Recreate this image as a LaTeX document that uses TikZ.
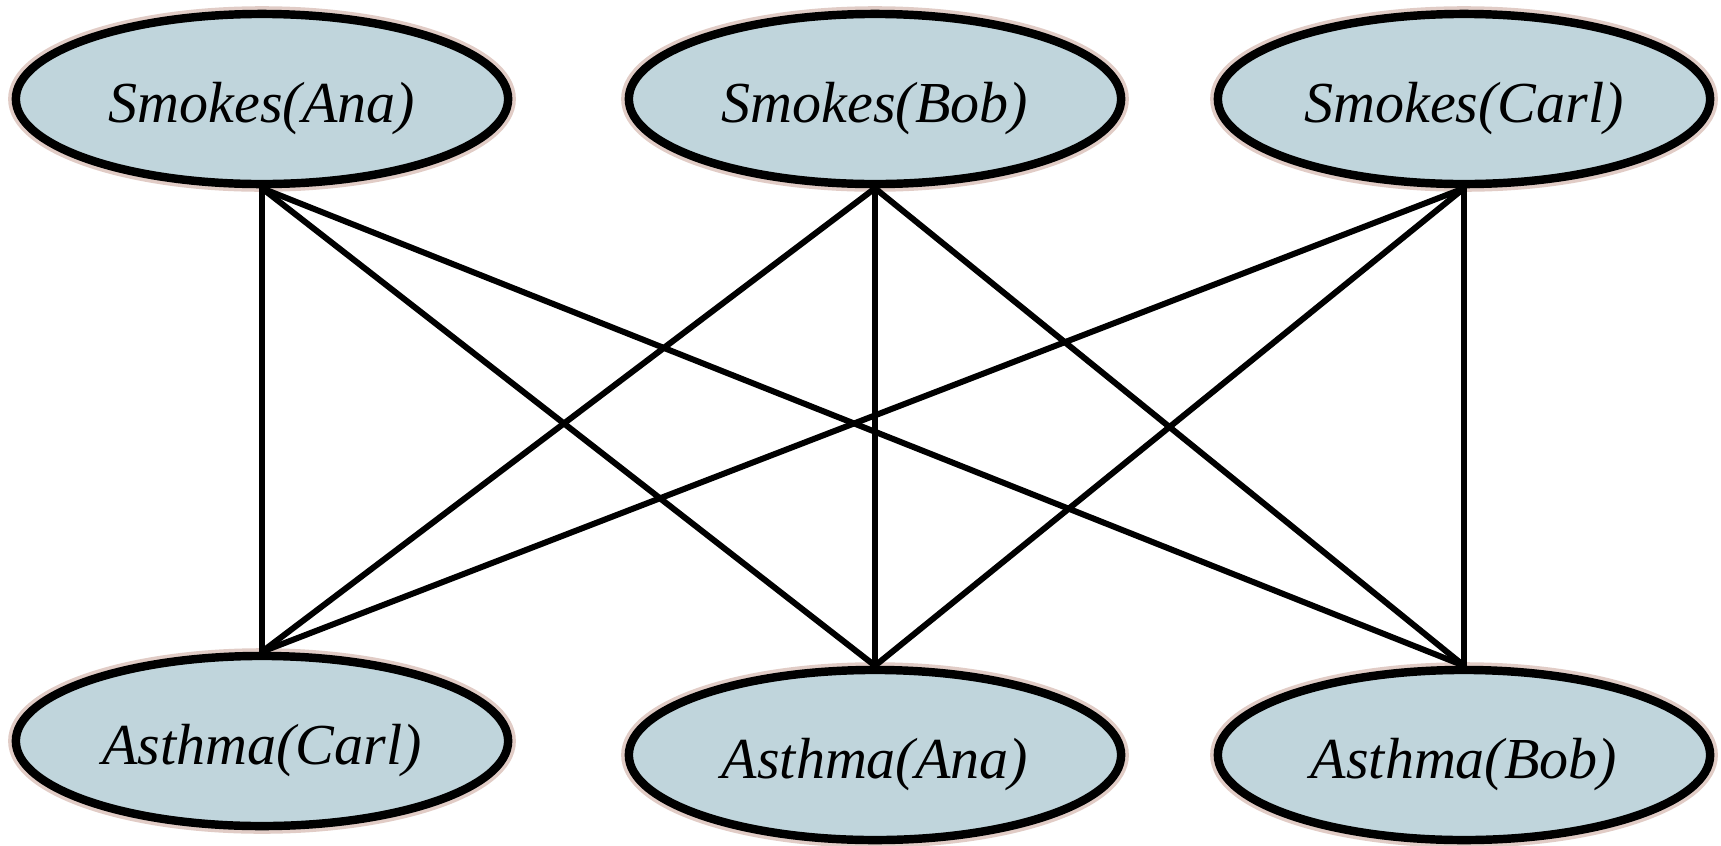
\documentclass[tikz,border=0pt]{standalone}
\usepackage{fontspec}
\setmainfont{Liberation Serif}
\usepackage{xcolor}
\usepackage{tikz}
\usetikzlibrary{shapes.geometric}
\definecolor{atomfill}{RGB}{192,213,220}
\definecolor{atomhalo}{RGB}{205,170,160}

\begin{document}
\begin{tikzpicture}[x=0.01cm,y=-0.01cm]%%smokes-asthma

                \tikzstyle{atom}  = [ellipse, draw, line width=2.4pt, fill=atomfill, minimum width=4.92cm, minimum height=1.70cm, inner sep=0pt, text height=17pt, text depth=3.5pt, font=\fontsize{16.5}{20}\selectfont\itshape, preaction={draw=atomhalo, opacity=0.6, line width=4.4pt}]
                \useasboundingbox (0,0) rectangle (1721,845);
                \node [atom](sa) at (262,99) {Smokes(Ana)};
                \node [atom](sb) at (875,99) {Smokes(Bob)};
                \node [atom](sc) at (1464,99) {Smokes(Carl)};
                \node [atom](ac) at (262,741) {Asthma(Carl)};
                \node [atom](aa) at (875,755) {Asthma(Ana)};
                \node [atom](ab) at (1464,755) {Asthma(Bob)};
                \foreach \s in {sa,sb,sc}
                {
                        \foreach \a in {ac,aa,ab}
                                \draw [line width=1.7pt] (\s.south) -- (\a.north);
                }
\end{tikzpicture}
\end{document}
